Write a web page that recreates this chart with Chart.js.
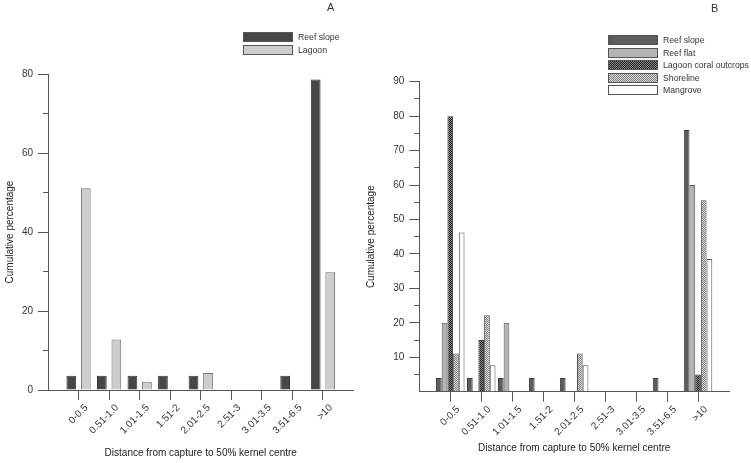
<!DOCTYPE html>
<html>
<head>
<meta charset="utf-8">
<script src="https://cdn.jsdelivr.net/npm/chart.js@4.4.1/dist/chart.umd.min.js"></script>
<style>
    body { margin: 0; background: #fff; font-family: "Liberation Sans", Arial, sans-serif; color: #333; }
    #wrap { position: relative; width: 751px; height: 463px; overflow: hidden; }
    canvas { position: absolute; top: 0; }
    #graficoA { left: 0; }
    #graficoB { left: 364px; }
    .letra { position: absolute; font-size: 11px; line-height: 14px; }
    .leyenda { position: absolute; font-size: 8.7px; white-space: nowrap; }
    .fila { display: flex; align-items: center; height: 12.5px; }
    .caja { width: 48px; height: 8px; border: 1px solid #555; margin-right: 5px; flex: none; }
</style>
</head>
<body>
<div id="wrap">
    <canvas id="graficoA" width="364" height="463"></canvas>
    <canvas id="graficoB" width="387" height="463"></canvas>
    <div class="letra" style="left:327px; top:0px">A</div>
    <div class="letra" style="left:711px; top:1px">B</div>
    <div class="leyenda" id="leyendaA" style="left:243px; top:31px"></div>
    <div class="leyenda" id="leyendaB" style="left:608px; top:34px"></div>
</div>
<script>
const categorias = ["0-0.5", "0.51-1.0", "1.01-1.5", "1.51-2", "2.01-2.5", "2.51-3", "3.01-3.5", "3.51-6.5", ">10"];

// Panel A
const reefSlopeA = [3.6, 3.6, 3.6, 3.6, 3.6, null, null, 3.6, 78.6];
const lagoonA = [51.1, 12.8, 2.1, null, 4.3, null, null, null, 29.8];

// Panel B
const reefSlopeB = [4, 4, 4, 4, 4, null, null, 4, 76];
const reefFlatB = [20, null, 20, null, null, null, null, null, 60];
const lagoonCoralB = [80, 15, null, null, null, null, null, null, 5];
const shorelineB = [11.1, 22.2, null, null, 11.1, null, null, null, 55.6];
const mangroveB = [46.2, 7.7, null, null, 7.7, null, null, null, 38.5];

const fuente = "'Liberation Sans', Arial, sans-serif";
const ejeColor = "#555";

// empty slot at each end of the axis
const etiquetas = ["", ...categorias, ""];
const rellenar = arr => [null, ...arr, null];

function tablero(c1, c2) {
    const cv = document.createElement("canvas");
    cv.width = 2; cv.height = 2;
    const g = cv.getContext("2d");
    g.fillStyle = c2; g.fillRect(0, 0, 2, 2);
    g.fillStyle = c1; g.fillRect(0, 0, 1, 1); g.fillRect(1, 1, 1, 1);
    return g.createPattern(cv, "repeat");
}

function pintarLeyenda(id, items) {
    const div = document.getElementById(id);
    items.forEach(it => {
        div.innerHTML += `
            <div class="fila">
                <div class="caja" style="background:${it.css}"></div>
                <span>${it.label}</span>
            </div>`;
    });
}

function crearGrafico(id, datasets, cfg) {
    return new Chart(document.getElementById(id), {
        type: "bar",
        data: { labels: etiquetas, datasets },
        options: {
            responsive: false,
            animation: false,
            categoryPercentage: cfg.catPct,
            barPercentage: cfg.barPct,
            layout: { padding: { top: cfg.top, right: cfg.right, left: 0, bottom: 0 } },
            plugins: { legend: { display: false }, tooltip: { enabled: false } },
            scales: {
                x: {
                    offset: false,
                    grid: {
                        offset: false,
                        drawOnChartArea: false,
                        tickLength: 10,
                        tickColor: ctx => (ctx.index === 0 || ctx.index === etiquetas.length - 1) ? "transparent" : ejeColor
                    },
                    border: { color: ejeColor, width: 1 },
                    ticks: {
                        autoSkip: false,
                        minRotation: 45,
                        maxRotation: 45,
                        padding: 2,
                        labelOffset: 8,
                        color: "#333",
                        font: { family: fuente, size: 10 }
                    },
                    title: {
                        display: true,
                        text: "Distance from capture to 50% kernel centre",
                        color: "#222",
                        font: { family: fuente, size: 10 },
                        padding: { top: 0, bottom: cfg.xTitlePad }
                    },
                    afterFit: s => { s.height = cfg.xHeight; }
                },
                y: {
                    min: 0,
                    max: cfg.max,
                    grid: {
                        drawOnChartArea: false,
                        tickLength: 10,
                        tickColor: ctx => (cfg.sinCero && ctx.tick && ctx.tick.value === 0) ? "transparent" : ejeColor,
                        tickBorderDash: ctx => (ctx.tick && ctx.tick.value % cfg.mayor !== 0) ? [0, 5, 5, 20] : []
                    },
                    border: { color: ejeColor, width: 1 },
                    ticks: {
                        stepSize: cfg.menor,
                        autoSkip: false,
                        padding: 5,
                        color: "#333",
                        font: { family: fuente, size: 10 },
                        callback: v => (v % cfg.mayor === 0 && !(cfg.sinCero && v === 0)) ? v : ""
                    },
                    title: {
                        display: true,
                        text: "Cumulative percentage",
                        color: "#222",
                        font: { family: fuente, size: 10 },
                        padding: { top: cfg.yTitlePad, bottom: 0 }
                    },
                    afterFit: s => { s.width = cfg.yWidth; }
                }
            }
        }
    });
}

const patronCoral = tablero("#1e1e1e", "#8a8a8a");
const patronShore = tablero("#7c7c7c", "#dedede");

crearGrafico("graficoA", [
    { label: "Reef slope", data: rellenar(reefSlopeA), backgroundColor: "#474747", borderColor: "#333", borderWidth: 1 },
    { label: "Lagoon", data: rellenar(lagoonA), backgroundColor: "#cdcdcd", borderColor: "#6e6e6e", borderWidth: 1 }
], {
    catPct: 0.95, barPct: 0.67, top: 74, right: 1, max: 80, mayor: 20, menor: 10,
    sinCero: false, xHeight: 73, yWidth: 48, xTitlePad: 4, yTitlePad: 4
});

crearGrafico("graficoB", [
    { label: "Reef slope", data: rellenar(reefSlopeB), backgroundColor: "#5c5c5c", borderColor: "#3c3c3c", borderWidth: 1 },
    { label: "Reef flat", data: rellenar(reefFlatB), backgroundColor: "#b4b4b4", borderColor: "#555", borderWidth: 1 },
    { label: "Lagoon coral outcrops", data: rellenar(lagoonCoralB), backgroundColor: patronCoral, borderColor: "#333", borderWidth: 1 },
    { label: "Shoreline", data: rellenar(shorelineB), backgroundColor: patronShore, borderColor: "#555", borderWidth: 1 },
    { label: "Mangrove", data: rellenar(mangroveB), backgroundColor: "#ffffff", borderColor: "#555", borderWidth: 1 }
], {
    catPct: 0.92, barPct: 1.0, top: 81.7, right: 22, max: 90, mayor: 10, menor: 5,
    sinCero: true, xHeight: 71.3, yWidth: 55.3, xTitlePad: 8.3, yTitlePad: 1.7
});

pintarLeyenda("leyendaA", [
    { label: "Reef slope", css: "#474747" },
    { label: "Lagoon", css: "#cdcdcd" }
]);

pintarLeyenda("leyendaB", [
    { label: "Reef slope", css: "#5c5c5c" },
    { label: "Reef flat", css: "#b4b4b4" },
    { label: "Lagoon coral outcrops", css: "repeating-conic-gradient(#1e1e1e 0 25%, #8a8a8a 0 50%) 0 0 / 2px 2px" },
    { label: "Shoreline", css: "repeating-conic-gradient(#7c7c7c 0 25%, #dedede 0 50%) 0 0 / 2px 2px" },
    { label: "Mangrove", css: "#ffffff" }
]);
</script>
</body>
</html>
